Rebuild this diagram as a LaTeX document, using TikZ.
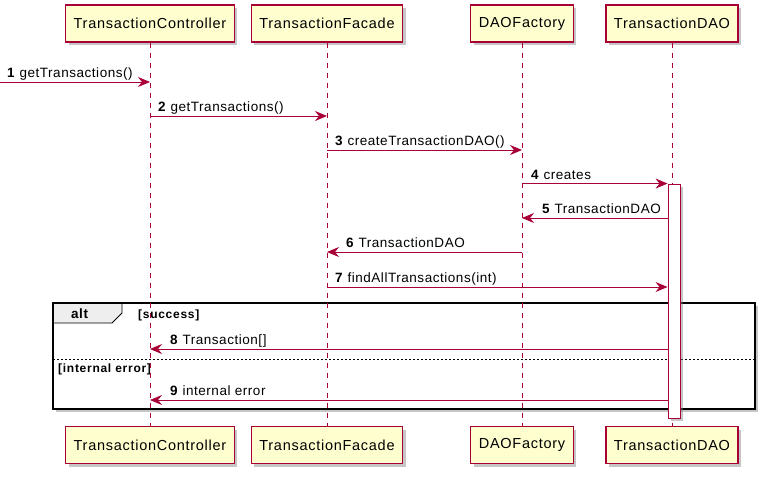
\documentclass[tikz,border=0pt]{standalone}
\usepackage{fontspec}
\setmainfont{Liberation Sans}
\usetikzlibrary{arrows.meta,shadows}
\definecolor{umlred}{HTML}{A80036}
\definecolor{umlbox}{HTML}{FEFECE}
\definecolor{umltab}{HTML}{EEEEEE}
\newfontfamily\boxfont[LetterSpace=5]{Liberation Sans}
\newfontfamily\msgfont[LetterSpace=4]{Liberation Sans}
\newfontfamily\guardfont[LetterSpace=6]{Liberation Sans}
\tikzset{
  actor/.style={draw=umlred, fill=umlbox, line width=1.1pt, minimum height=37pt, inner xsep=8pt,
    font=\boxfont\fontsize{14.5}{16}\selectfont, drop shadow={shadow xshift=3pt, shadow yshift=-3pt, opacity=0.45}},
  life/.style={umlred, line width=0.8pt, dash pattern=on 5pt off 5pt},
  msg/.style={umlred, line width=0.9pt, -{Stealth[length=12pt,width=10pt,inset=4pt]}},
  lbl/.style={anchor=base west, inner sep=0pt, font=\msgfont\fontsize{13.5}{15}\selectfont},
  guard/.style={anchor=base west, inner sep=0pt, font=\guardfont\bfseries\fontsize{12}{13}\selectfont},
  activ/.style={draw=umlred, fill=white, line width=0.9pt, minimum width=12pt, minimum height=234pt,
    inner sep=0pt, drop shadow={shadow xshift=3pt, shadow yshift=-3pt, opacity=0.45}},
}
\begin{document}
\begin{tikzpicture}[x=1pt,y=-1pt]
\useasboundingbox (0,0) rectangle (768,477);

% alt frame first, lifelines go over it
\draw[line width=1.6pt, fill=white, drop shadow={shadow xshift=3pt, shadow yshift=-3pt, opacity=0.45}]
  (53,303) rectangle (755,409);
\draw[fill=umltab, line width=0.8pt] (53,303) -- (122,303) -- (122,313) -- (112,323) -- (53,323) -- cycle;
\draw[line width=1.6pt] (53,303) rectangle (755,409);
\draw[line width=0.8pt, dash pattern=on 2pt off 2pt] (53,359) -- (755,359);
\node[anchor=base west, inner sep=0pt, font=\msgfont\bfseries\fontsize{13.5}{15}\selectfont] (alt) at (71,318) {alt};
\node[guard] (g1) at (138,318) {[success]};
\node[guard] (g2) at (58,372) {[internal error]};

\node[actor] (tcT) at (150,23.5) {TransactionController};
\node[actor] (tfT) at (327,23.5) {TransactionFacade};
\node[actor] (dfT) at (522,23.5) {DAOFactory};
\node[actor] (tdT) at (672,23.5) {TransactionDAO};
\node[actor] (tcB) at (150,445) {TransactionController};
\node[actor] (tfB) at (327,445) {TransactionFacade};
\node[actor] (dfB) at (522,445) {DAOFactory};
\node[actor] (tdB) at (672,445) {TransactionDAO};

\draw[life] (tcT) -- (tcB);
\draw[life] (tfT) -- (tfB);
\draw[life] (dfT) -- (dfB);
\draw[life] (tdT) -- (tdB);

\node[activ] (act) at (674,301) {};

\coordinate (ext) at (0,82);
\draw[msg] (ext) -- (tcT |- ext);
\draw[msg] (tcT |- 0,116) -- (tfT |- 0,116);
\draw[msg] (tfT |- 0,150) -- (dfT |- 0,150);
\draw[msg] (dfT |- act.north) -- (act.north west);
\draw[msg] (act.west |- 0,218) -- (dfT |- 0,218);
\draw[msg] (dfT |- 0,252) -- (tfT |- 0,252);
\draw[msg] (tfT |- 0,287) -- (act.west |- 0,287);
\draw[msg] (act.west |- 0,349) -- (tcT |- 0,349);
\draw[msg] (act.west |- 0,400) -- (tcT |- 0,400);

\node[lbl] (l1) at (7,77) {\textbf{1} getTransactions()};
\node[lbl] (l2) at (158,111) {\textbf{2} getTransactions()};
\node[lbl] (l3) at (335,145) {\textbf{3} createTransactionDAO()};
\node[lbl] (l4) at (531,179) {\textbf{4} creates};
\node[lbl] (l5) at (542,213) {\textbf{5} TransactionDAO};
\node[lbl] (l6) at (346,247) {\textbf{6} TransactionDAO};
\node[lbl] (l7) at (335,282) {\textbf{7} findAllTransactions(int)};
\node[lbl] (l8) at (170,344) {\textbf{8} Transaction[]};
\node[lbl] (l9) at (170,395) {\textbf{9} internal error};
\end{tikzpicture}
\end{document}
